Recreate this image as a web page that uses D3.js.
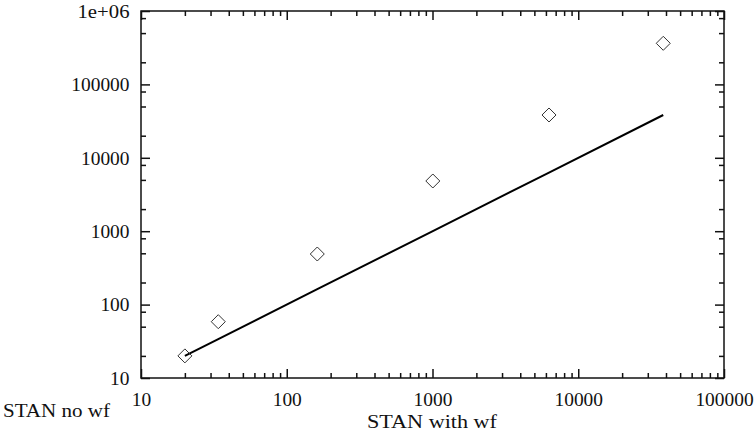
<!DOCTYPE html>
<html>
<head>
<meta charset="utf-8">
<script src="https://cdn.jsdelivr.net/npm/d3@7/dist/d3.min.js"></script>
<style>
  html, body { margin: 0; padding: 0; background: #fff; }
  svg text { font-family: "Liberation Serif", "DejaVu Serif", serif; fill: #111; }
</style>
</head>
<body>
<svg id="chart" width="756" height="431"></svg>
<script>
// ---- data ----
const xValues = [20, 33.9, 162, 1005, 6300, 38300];          // STAN with wf
const yValues = [20, 58.5, 489, 4830, 38300, 363000];        // STAN no wf
const lineX = [20, 33.9, 162, 1005, 6300, 38300];            // reference line y = x
const lineY = [20, 33.9, 162, 1005, 6300, 38300];
const xTickValues = [10, 100, 1000, 10000, 100000];
const xTickLabels = ["10", "100", "1000", "10000", "100000"];
const yTickValues = [10, 100, 1000, 10000, 100000, 1000000];
const yTickLabels = ["10", "100", "1000", "10000", "100000", "1e+06"];
const xMinorMult = [2, 3, 4, 5, 6, 7, 8, 9];
const yMinorMult = [2, 5, 8];
const xLabel = "STAN with wf";
const yLabel = "STAN no wf";

// ---- layout ----
const L = 141, R = 724, T = 11, B = 378;
const svg = d3.select("#chart");

const x = d3.scaleLog().domain([10, 100000]).range([L, R]);
const y = d3.scaleLog().domain([10, 1000000]).range([B, T]);

const minor = (majors, mults) => {
  const out = [];
  majors.slice(0, -1).forEach(m => mults.forEach(k => out.push(m * k)));
  return out;
};
const xMinor = minor(xTickValues, xMinorMult);
const yMinor = minor(yTickValues, yMinorMult);

const MAJ = 9, MIN = 5, fs = 19;

function styleAxis(g) {
  g.select(".domain").remove();
  g.selectAll(".tick line").attr("stroke", "#111").attr("stroke-width", 1.5);
}

// bottom
svg.append("g").attr("transform", `translate(0,${B})`)
  .call(d3.axisBottom(x).tickValues(xMinor).tickSize(-MIN).tickFormat(""))
  .call(styleAxis);
const gb = svg.append("g").attr("transform", `translate(0,${B})`)
  .call(d3.axisBottom(x).tickValues(xTickValues).tickSize(-MAJ)
    .tickFormat((d, i) => xTickLabels[i]).tickPadding(15))
  .call(styleAxis);
gb.selectAll("text").attr("font-size", fs).attr("font-family", null).attr("dy", null)
  .attr("y", 28).attr("textLength", d => 9.7 * String(xTickLabels[xTickValues.indexOf(d)]).length)
  .attr("lengthAdjust", "spacingAndGlyphs");

// top
svg.append("g").attr("transform", `translate(0,${T})`)
  .call(d3.axisTop(x).tickValues(xMinor).tickSize(-MIN).tickFormat(""))
  .call(styleAxis);
svg.append("g").attr("transform", `translate(0,${T})`)
  .call(d3.axisTop(x).tickValues(xTickValues).tickSize(-MAJ).tickFormat(""))
  .call(styleAxis);

// left
svg.append("g").attr("transform", `translate(${L},0)`)
  .call(d3.axisLeft(y).tickValues(yMinor).tickSize(-MIN).tickFormat(""))
  .call(styleAxis);
const gl = svg.append("g").attr("transform", `translate(${L},0)`)
  .call(d3.axisLeft(y).tickValues(yTickValues).tickSize(-MAJ)
    .tickFormat((d, i) => yTickLabels[i]).tickPadding(11))
  .call(styleAxis);
gl.selectAll("text").attr("font-size", fs).attr("font-family", null)
  .attr("dy", "0.33em").attr("x", -11.5)
  .attr("textLength", d => {
    const s = yTickLabels[yTickValues.indexOf(d)];
    return s === "1e+06" ? 52 : 9.7 * s.length;
  })
  .attr("lengthAdjust", "spacingAndGlyphs");

// right
svg.append("g").attr("transform", `translate(${R},0)`)
  .call(d3.axisRight(y).tickValues(yMinor).tickSize(-MIN).tickFormat(""))
  .call(styleAxis);
svg.append("g").attr("transform", `translate(${R},0)`)
  .call(d3.axisRight(y).tickValues(yTickValues).tickSize(-MAJ).tickFormat(""))
  .call(styleAxis);

// frame
svg.append("rect").attr("x", L).attr("y", T).attr("width", R - L).attr("height", B - T)
  .attr("fill", "none").attr("stroke", "#111").attr("stroke-width", 1.5);

// line
const lineData = lineX.map((v, i) => [v, lineY[i]]);
svg.append("path").datum(lineData)
  .attr("d", d3.line().x(d => x(d[0])).y(d => y(d[1])))
  .attr("fill", "none").attr("stroke", "#000").attr("stroke-width", 2);

// diamonds
const pts = xValues.map((v, i) => [v, yValues[i]]);
svg.append("g").selectAll("path").data(pts).join("path")
  .attr("transform", d => `translate(${x(d[0])},${y(d[1])})`)
  .attr("d", "M0,-7L7,0L0,7L-7,0Z")
  .attr("fill", "none").attr("stroke", "#333").attr("stroke-width", 1);

// axis titles
svg.append("text").attr("x", 432).attr("y", 428).attr("text-anchor", "middle")
  .attr("font-size", fs).attr("textLength", 130).attr("lengthAdjust", "spacingAndGlyphs")
  .text(xLabel);
svg.append("text").attr("x", 3).attr("y", 417).attr("text-anchor", "start")
  .attr("font-size", fs).attr("textLength", 107).attr("lengthAdjust", "spacingAndGlyphs")
  .text(yLabel);
</script>
</body>
</html>
